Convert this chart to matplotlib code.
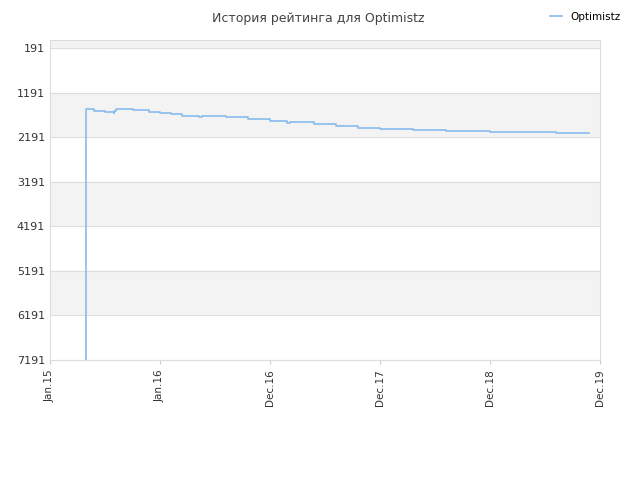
import matplotlib
matplotlib.use("Agg")
import matplotlib.pyplot as plt

title = "История рейтинга для Optimistz"
tick_labels = ["Jan.15", "Jan.16", "Dec.16", "Dec.17", "Dec.18", "Dec.19"]
y_ticks = [191, 1191, 2191, 3191, 4191, 5191, 6191, 7191]
# x in tick-interval units (0 = Jan.15, 5 = Dec.19)
x_vals = [0.327, 0.327, 0.33, 0.40, 0.50, 0.58, 0.585, 0.60, 0.65, 0.75, 0.9, 1.0, 1.1, 1.2, 1.35, 1.38,
          1.40, 1.6, 1.8, 2.0, 2.15, 2.18, 2.2, 2.4, 2.6, 2.8, 3.0, 3.3, 3.6, 3.9, 4.0, 4.3, 4.6, 4.9]
y_vals = [7191, 1570, 1560, 1590, 1610, 1630, 1600, 1545, 1560, 1580, 1610, 1640, 1670, 1700, 1730, 1700,
          1710, 1740, 1780, 1820, 1860, 1840, 1850, 1890, 1930, 1970, 2010, 2030, 2040, 2045, 2060, 2070, 2090, 2097]

fig = plt.figure(figsize=(6.4, 4.8), dpi=100)
ax = fig.add_axes([50/640, 1-360/480, 550/640, 320/480])
bands = [0, 191, 1191, 2191, 3191, 4191, 5191, 6191, 7191]
for i in range(len(bands)-1):
    ax.axhspan(bands[i], bands[i+1], color="#f3f3f3" if i % 2 == 0 else "white", zorder=0)
for b in bands[1:]:
    ax.axhline(b, color="#dddddd", lw=0.8, zorder=1)
ax.step(x_vals, y_vals, where="post", color="#88bbee", lw=1.2, zorder=3, label="Optimistz")
ax.set_xlim(0, 5)
ax.set_ylim(7191, 0)
ax.set_yticks(y_ticks)
ax.set_yticklabels([str(t) for t in y_ticks], fontsize=8, color="#333333")
ax.set_xticks(range(6))
ax.set_xticklabels(tick_labels, rotation=90, fontsize=7.5, color="#333333")
for s in ax.spines.values():
    s.set_color("#dddddd")
ax.tick_params(length=0)
ax.tick_params(axis="x", length=3, color="#cccccc")
fig.text(0.497, 0.975, title, ha="center", va="top", fontsize=9, color="#444444")
fig.legend(loc="upper right", bbox_to_anchor=(0.985, 0.995), frameon=False, fontsize=7.5, handlelength=1.2)
fig.savefig("out.png")
